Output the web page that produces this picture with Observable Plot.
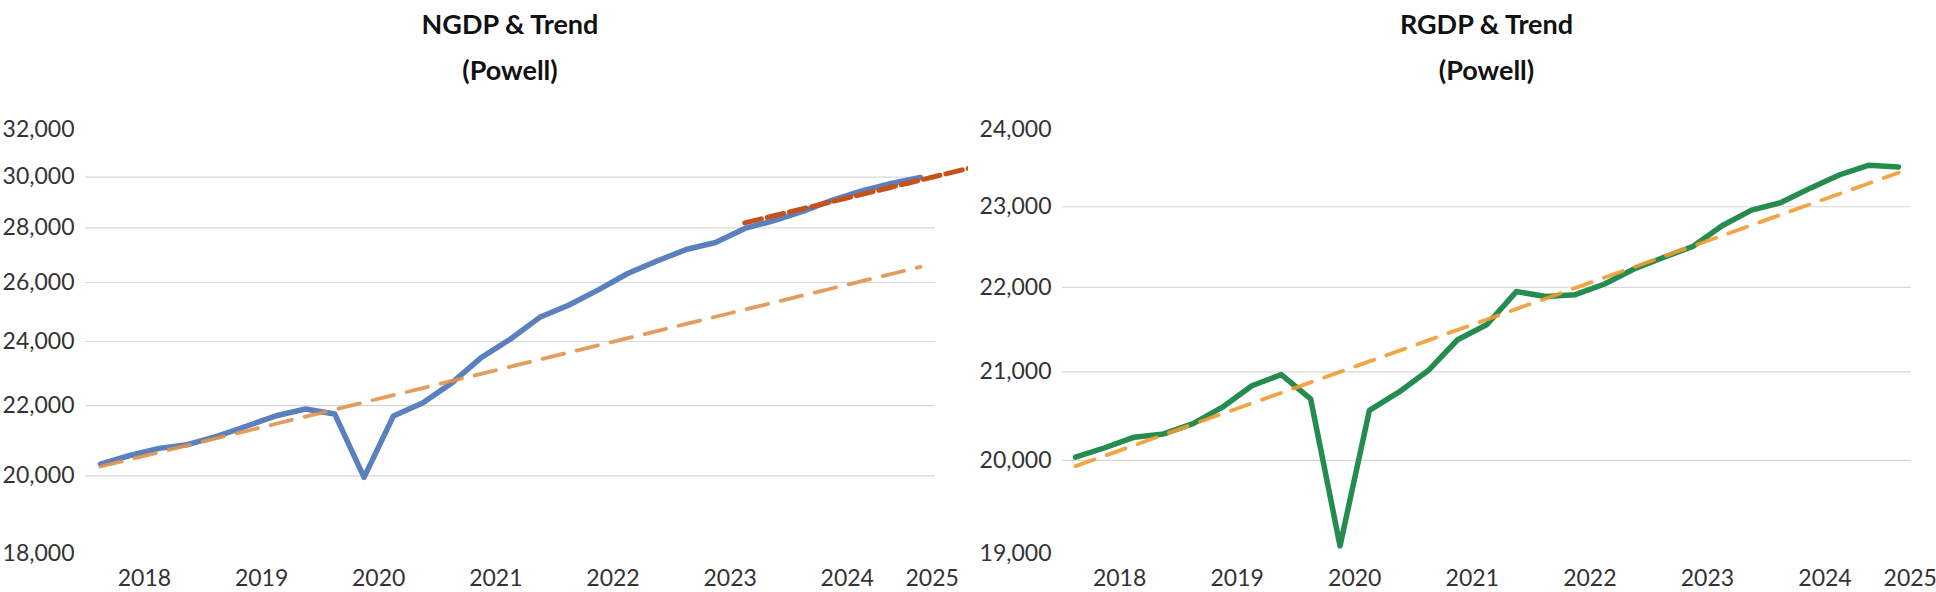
<!DOCTYPE html>
<html><head><meta charset="utf-8">
<script src="https://cdn.jsdelivr.net/npm/d3@7"></script>
<script src="https://cdn.jsdelivr.net/npm/@observablehq/plot@0.6"></script>
<style>
html,body{margin:0;padding:0;background:#fff;overflow:hidden;}
#wrap{display:flex;width:1936px;height:592px;}
.panel{width:968px;height:592px;position:relative;}
.title{height:95px;font-family:Lato,"Open Sans",sans-serif;font-weight:700;font-size:27px;color:#111;text-align:center;line-height:46px;box-sizing:border-box;padding-top:1px;}
</style></head><body><div id="wrap"></div><script>
// Quarters shown (2018Q1 .. 2025Q1)
const quarters = ["2018Q1","2018Q2","2018Q3","2018Q4","2019Q1","2019Q2","2019Q3","2019Q4",
  "2020Q1","2020Q2","2020Q3","2020Q4","2021Q1","2021Q2","2021Q3","2021Q4",
  "2022Q1","2022Q2","2022Q3","2022Q4","2023Q1","2023Q2","2023Q3","2023Q4",
  "2024Q1","2024Q2","2024Q3","2024Q4","2025Q1"];
// Nominal GDP ($bn) and its trend
const ngdp = [20322,20560,20760,20870,21110,21400,21700,21900,21750,19960,21690,22080,22690,23480,24080,24800,
  25220,25740,26320,26770,27190,27450,27980,28280,28640,29080,29440,29740,29980];
const ngdpTrend = [20255,20452,20651,20852,21055,21259,21466,21675,21886,22098,22313,22530,22749,22970,23194,23419,
  23647,23877,24109,24343,24580,24819,25060,25304,25550,25798,26049,26302,26558];
// Second (recent) NGDP trend, starting 2023Q3
const ngdpTrend2Quarters = ["2023Q3","2023Q4","2024Q1","2024Q2","2024Q3","2024Q4","2025Q1","2025Q2","2025Q3"];
const ngdpTrend2 = [28190,28465,28742,29022,29305,29590,29878,30170,30464];
// Real GDP and its trend
const rgdp = [20036,20140,20258,20294,20410,20595,20840,20968,20690,19080,20560,20766,21015,21375,21555,21950,
  21890,21912,22042,22224,22366,22502,22760,22958,23053,23237,23409,23533,23510];
const rgdpTrend = [19937,20052,20168,20285,20403,20521,20640,20759,20879,21000,21122,21244,21367,21491,21615,21740,
  21866,21993,22120,22248,22377,22507,22637,22768,22900,23033,23166,23300,23435];
// Axis ticks
const tickYears = [2018,2019,2020,2021,2022,2023,2024,2025];
const ngdpTicks = [18000,20000,22000,24000,26000,28000,30000,32000];
const rgdpTicks = [19000,20000,21000,22000,23000,24000];

const qt = s => +s.slice(0,4) + (+s[5]-1)/4;
const rows = (qs, vs) => qs.map((q,i) => ({t: qt(q), v: vs[i]}));
const xTicks = tickYears.map(y => Math.min(y + 0.375, 2025.1));

function panel(opts) {
  const div = document.createElement("div");
  div.className = "panel";
  const t = document.createElement("div");
  t.className = "title";
  t.style.paddingLeft = opts.marginLeft + "px";
  t.style.paddingRight = opts.marginRight + "px";
  t.innerHTML = opts.title + "<br>(Powell)";
  div.appendChild(t);
  const plot = Plot.plot({
    width: 968, height: 497,
    marginTop: 34, marginBottom: 39, marginLeft: opts.marginLeft, marginRight: opts.marginRight,
    style: {fontFamily: "Lato, 'Open Sans', sans-serif", fontSize: "23px", color: "#333", background: "white", overflow: "hidden"},
    x: {domain: [2018, 2025], inset: opts.inset, ticks: xTicks, tickFormat: d => String(Math.floor(d)), tickSize: 0, tickPadding: 16, label: null},
    y: {type: "log", domain: [opts.ticks[0], opts.ticks[opts.ticks.length-1]], ticks: opts.ticks, tickFormat: d3.format(","), tickSize: 0, tickPadding: 11, label: null},
    marks: [
      Plot.ruleY(opts.ticks.slice(1, -1), {stroke: "#d9d9d9", strokeWidth: 1.2}),
      Plot.line(rows(quarters, opts.values), {x: "t", y: "v", stroke: opts.color, strokeWidth: 5.5, strokeLinejoin: "round"}),
      Plot.line(rows(quarters, opts.trend), {x: "t", y: "v", stroke: opts.trendColor, strokeWidth: 3.8, strokeDasharray: opts.dash, strokeOpacity: 0.9}),
      ...(opts.extra ? [Plot.line(opts.extra, {x: "t", y: "v", stroke: "#c4521a", strokeWidth: 5, strokeDasharray: "17,6"})] : [])
    ]
  });
  div.appendChild(plot);
  return div;
}

const wrap = document.getElementById("wrap");
wrap.appendChild(panel({title: "NGDP &amp; Trend", values: ngdp, trend: ngdpTrend, ticks: ngdpTicks,
  marginLeft: 85, marginRight: 33, inset: 15, color: "#5a80bd", trendColor: "#e0924e", dash: "22,13",
  extra: rows(ngdpTrend2Quarters, ngdpTrend2)}));
wrap.appendChild(panel({title: "RGDP &amp; Trend", values: rgdp, trend: rgdpTrend, ticks: rgdpTicks,
  marginLeft: 94, marginRight: 25, inset: 13, color: "#258c50", trendColor: "#f29a30", dash: "20,13"}));
</script></body></html>
